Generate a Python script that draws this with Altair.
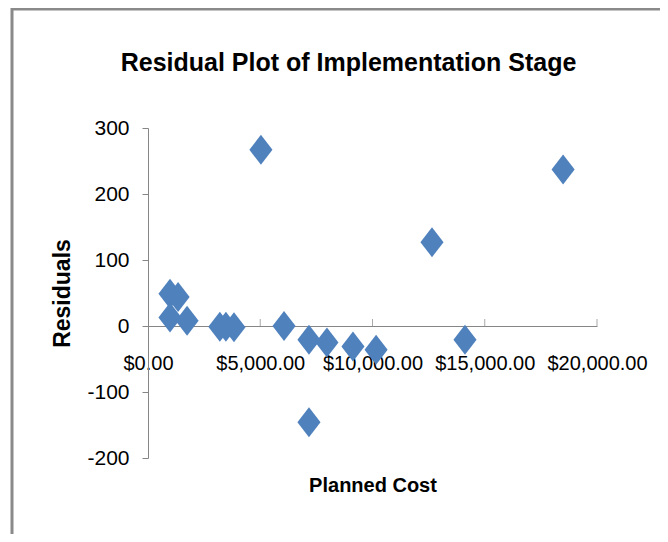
import altair as alt
import pandas as pd

# Data
planned_cost = [980, 1340, 980, 1740, 3200, 3470, 3830, 5030, 6060, 7170, 7970, 9130, 10160, 12650, 14120, 18490, 7170]
residuals = [49, 44, 13, 8, -1, -1, -2, 267, 0, -21, -25, -31, -36, 127, -21, 237, -146]
x_ticks = [0, 5000, 10000, 15000, 20000]
y_ticks = [-200, -100, 0, 100, 200, 300]

df = pd.DataFrame({"Planned Cost": planned_cost, "Residuals": residuals})
ticks_df = pd.DataFrame({"t": x_ticks[1:]})
one = pd.DataFrame({"a": [0]})

FONT = "Liberation Sans, Arial, sans-serif"
GRAY = "#868686"
W, H = 449, 330

diamond = "M0,-1L0.77,0L0,1L-0.77,0Z"

points = alt.Chart(df).mark_point(
    shape=diamond, filled=True, size=900, color="#4F81BD", opacity=1, strokeWidth=0
).encode(
    x=alt.X(
        "Planned Cost:Q",
        scale=alt.Scale(domain=[0, 20000], nice=False, zero=False),
        axis=alt.Axis(
            values=x_ticks,
            format="$,.2f",
            offset=-132,
            ticks=False,
            tickSize=0,
            grid=False,
            domainColor=GRAY,
            domainWidth=1,
            labelFont=FONT,
            labelFontSize=20,
            labelColor="#000000",
            labelPadding=27,
            labelBaseline="top",
            labelFlush=False,
            labelOverlap=False,
            title="Planned Cost",
            titleFont=FONT,
            titleFontSize=20,
            titleFontWeight="bold",
            titleColor="#000000",
            titleBaseline="alphabetic",
            titleY=165,
        ),
    ),
    y=alt.Y(
        "Residuals:Q",
        scale=alt.Scale(domain=[-200, 300], nice=False, zero=False),
        axis=alt.Axis(
            values=y_ticks,
            labelExpr="datum.value < 0 ? '-' + abs(datum.value) : '' + datum.value",
            grid=False,
            tickSize=6,
            tickColor=GRAY,
            domainColor=GRAY,
            domainWidth=1,
            labelFont=FONT,
            labelFontSize=21,
            labelColor="#000000",
            labelPadding=13,
            title="Residuals",
            titleFont=FONT,
            titleFontSize=23,
            titleFontWeight="bold",
            titleColor="#000000",
            titleX=-86,
            titleY=H / 2,
            titleAlign="center",
            titleBaseline="middle",
            titleAngle=270,
        ),
    ),
)

xticks = alt.Chart(ticks_df).mark_tick(
    orient="vertical", size=7, thickness=1, color=GRAY, yOffset=-3.5
).encode(x=alt.X("t:Q"), y=alt.datum(0))

frame_top = alt.Chart(one).mark_rule(color="#8a8a8a", strokeWidth=3).encode(
    x=alt.value(-137), x2=alt.value(W + 80), y=alt.value(-119)
)
frame_left = alt.Chart(one).mark_rule(color="#8a8a8a", strokeWidth=3).encode(
    x=alt.value(-136), y=alt.value(-120), y2=alt.value(H + 100)
)

chart = alt.layer(frame_top, frame_left, xticks, points).properties(
    width=W,
    height=H,
    title=alt.TitleParams(
        "Residual Plot of Implementation Stage",
        font=FONT,
        fontSize=25,
        fontWeight="bold",
        color="#000000",
        anchor="middle",
        dx=-24,
        offset=-89,
        baseline="alphabetic",
    ),
    autosize=alt.AutoSizeParams(type="none"),
    padding={"left": 140, "top": 120, "right": 63, "bottom": 76},
).configure(background="#ffffff").configure_view(stroke=None)

chart.save("out.html", embed_options={"renderer": "svg", "actions": False})
